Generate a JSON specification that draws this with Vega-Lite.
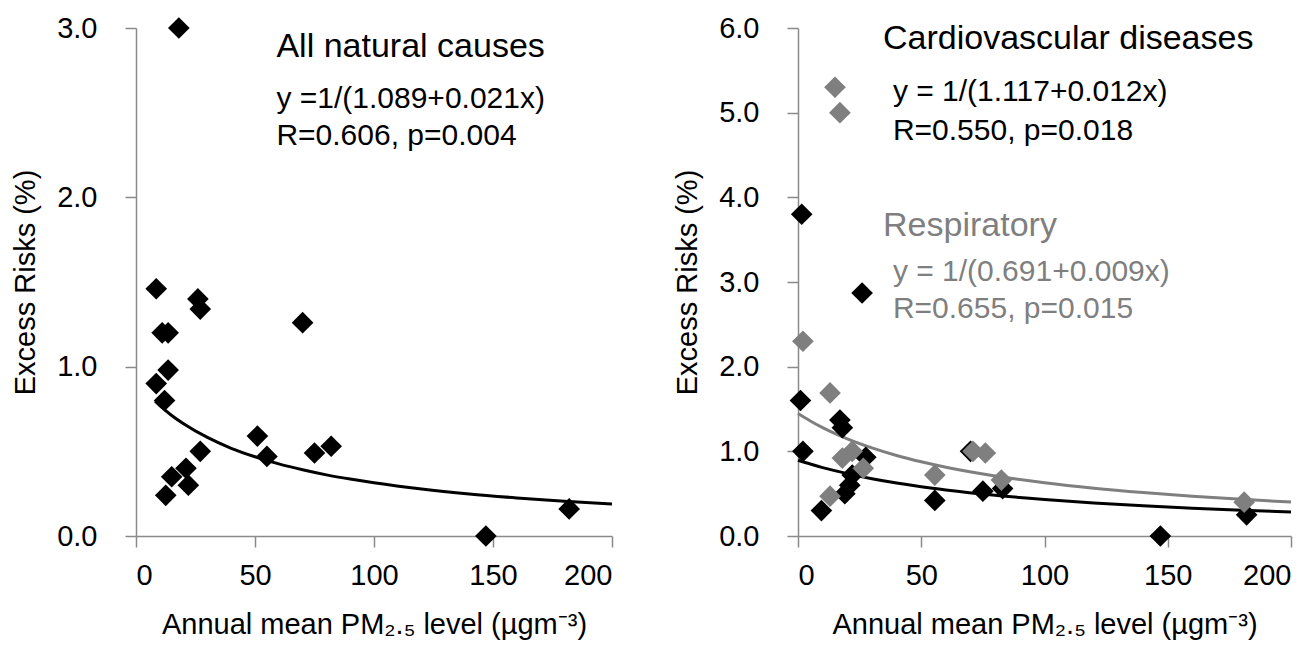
{
  "$schema": "https://vega.github.io/schema/vega-lite/v6.json",
  "padding": {"left": 11, "top": 14, "right": 5, "bottom": 5},
  "background": "#ffffff",
  "spacing": 55,
  "datasets": {
    "nat": [
      {"x": 18, "y": 3.0}, {"x": 8.5, "y": 1.46}, {"x": 26, "y": 1.40}, {"x": 27, "y": 1.34},
      {"x": 11, "y": 1.20}, {"x": 13.5, "y": 1.20}, {"x": 70, "y": 1.26}, {"x": 13.5, "y": 0.98},
      {"x": 8.5, "y": 0.90}, {"x": 12, "y": 0.80}, {"x": 51, "y": 0.59}, {"x": 55, "y": 0.47},
      {"x": 27, "y": 0.50}, {"x": 75, "y": 0.49}, {"x": 82, "y": 0.53}, {"x": 15, "y": 0.35},
      {"x": 21, "y": 0.40}, {"x": 22, "y": 0.30}, {"x": 12.5, "y": 0.24}, {"x": 147, "y": 0.0},
      {"x": 182, "y": 0.16}
    ],
    "natFit": [
      {"x": 8, "y": 0.796}, {"x": 10, "y": 0.770}, {"x": 15, "y": 0.712}, {"x": 20, "y": 0.663},
      {"x": 30, "y": 0.582}, {"x": 40, "y": 0.518}, {"x": 50, "y": 0.468}, {"x": 60, "y": 0.426},
      {"x": 70, "y": 0.391}, {"x": 80, "y": 0.361}, {"x": 90, "y": 0.336}, {"x": 100, "y": 0.314},
      {"x": 120, "y": 0.277}, {"x": 140, "y": 0.248}, {"x": 160, "y": 0.225}, {"x": 180, "y": 0.205},
      {"x": 200, "y": 0.189}
    ],
    "natTitle": [{"x": 59, "y": 2.89, "label": "All natural causes"}],
    "natStats": [
      {"x": 59, "y": 2.58, "label": "y =1/(1.089+0.021x)"},
      {"x": 59, "y": 2.36, "label": "R=0.606, p=0.004"}
    ],
    "cr": [
      {"x": 1.5, "y": 3.8, "group": "Cardiovascular"}, {"x": 26, "y": 2.87, "group": "Cardiovascular"},
      {"x": 1, "y": 1.6, "group": "Cardiovascular"}, {"x": 17, "y": 1.37, "group": "Cardiovascular"},
      {"x": 18, "y": 1.28, "group": "Cardiovascular"}, {"x": 2, "y": 1.0, "group": "Cardiovascular"},
      {"x": 27.5, "y": 0.93, "group": "Cardiovascular"}, {"x": 22, "y": 0.72, "group": "Cardiovascular"},
      {"x": 21, "y": 0.6, "group": "Cardiovascular"}, {"x": 19, "y": 0.5, "group": "Cardiovascular"},
      {"x": 9.5, "y": 0.3, "group": "Cardiovascular"}, {"x": 70, "y": 1.0, "group": "Cardiovascular"},
      {"x": 55.5, "y": 0.42, "group": "Cardiovascular"}, {"x": 75, "y": 0.53, "group": "Cardiovascular"},
      {"x": 83, "y": 0.56, "group": "Cardiovascular"}, {"x": 147, "y": 0.0, "group": "Cardiovascular"},
      {"x": 182, "y": 0.25, "group": "Cardiovascular"},
      {"x": 15, "y": 5.3, "group": "Respiratory"}, {"x": 17, "y": 5.0, "group": "Respiratory"},
      {"x": 2, "y": 2.3, "group": "Respiratory"}, {"x": 13, "y": 1.69, "group": "Respiratory"},
      {"x": 18, "y": 0.92, "group": "Respiratory"}, {"x": 22, "y": 1.0, "group": "Respiratory"},
      {"x": 26.5, "y": 0.8, "group": "Respiratory"}, {"x": 13, "y": 0.47, "group": "Respiratory"},
      {"x": 71, "y": 1.0, "group": "Respiratory"}, {"x": 76, "y": 0.98, "group": "Respiratory"},
      {"x": 55.5, "y": 0.72, "group": "Respiratory"}, {"x": 82.5, "y": 0.66, "group": "Respiratory"},
      {"x": 181, "y": 0.4, "group": "Respiratory"}
    ],
    "crFit": [
      {"x": 0, "y": 0.895, "group": "Cardiovascular"}, {"x": 5, "y": 0.850, "group": "Cardiovascular"},
      {"x": 10, "y": 0.808, "group": "Cardiovascular"}, {"x": 20, "y": 0.737, "group": "Cardiovascular"},
      {"x": 30, "y": 0.677, "group": "Cardiovascular"}, {"x": 40, "y": 0.626, "group": "Cardiovascular"},
      {"x": 50, "y": 0.582, "group": "Cardiovascular"}, {"x": 60, "y": 0.544, "group": "Cardiovascular"},
      {"x": 80, "y": 0.481, "group": "Cardiovascular"}, {"x": 100, "y": 0.432, "group": "Cardiovascular"},
      {"x": 120, "y": 0.391, "group": "Cardiovascular"}, {"x": 140, "y": 0.358, "group": "Cardiovascular"},
      {"x": 160, "y": 0.329, "group": "Cardiovascular"}, {"x": 180, "y": 0.305, "group": "Cardiovascular"},
      {"x": 200, "y": 0.284, "group": "Cardiovascular"},
      {"x": 0, "y": 1.447, "group": "Respiratory"}, {"x": 5, "y": 1.359, "group": "Respiratory"},
      {"x": 10, "y": 1.280, "group": "Respiratory"}, {"x": 20, "y": 1.148, "group": "Respiratory"},
      {"x": 30, "y": 1.041, "group": "Respiratory"}, {"x": 40, "y": 0.951, "group": "Respiratory"},
      {"x": 50, "y": 0.876, "group": "Respiratory"}, {"x": 60, "y": 0.812, "group": "Respiratory"},
      {"x": 80, "y": 0.709, "group": "Respiratory"}, {"x": 100, "y": 0.629, "group": "Respiratory"},
      {"x": 120, "y": 0.565, "group": "Respiratory"}, {"x": 140, "y": 0.513, "group": "Respiratory"},
      {"x": 160, "y": 0.469, "group": "Respiratory"}, {"x": 180, "y": 0.433, "group": "Respiratory"},
      {"x": 200, "y": 0.401, "group": "Respiratory"}
    ],
    "crTitle": [
      {"x": 34.5, "y": 5.87, "label": "Cardiovascular diseases", "group": "Cardiovascular"},
      {"x": 34.5, "y": 3.66, "label": "Respiratory", "group": "Respiratory"}
    ],
    "crStats": [
      {"x": 38.5, "y": 5.24, "label": "y = 1/(1.117+0.012x)", "group": "Cardiovascular"},
      {"x": 38.5, "y": 4.78, "label": "R=0.550, p=0.018", "group": "Cardiovascular"},
      {"x": 38.5, "y": 3.12, "label": "y = 1/(0.691+0.009x)", "group": "Respiratory"},
      {"x": 38.5, "y": 2.68, "label": "R=0.655, p=0.015", "group": "Respiratory"}
    ]
  },
  "hconcat": [
    {
      "width": 476,
      "height": 508,
      "encoding": {
        "x": {"field": "x", "type": "quantitative", "scale": {"domain": [0, 200], "nice": false},
              "axis": {"values": [0, 50, 100, 150, 200], "title": "Annual mean PM₂.₅ level (µgm⁻³)"}},
        "y": {"field": "y", "type": "quantitative", "scale": {"domain": [0, 3], "nice": false},
              "axis": {"values": [0, 1, 2, 3], "format": ".1f", "title": "Excess Risks (%)"}}
      },
      "layer": [
        {"data": {"name": "natFit"}, "mark": {"type": "line", "color": "#000000", "strokeWidth": 3, "interpolate": "monotone"}},
        {"data": {"name": "nat"}, "mark": {"type": "point", "shape": "diamond", "filled": true, "size": 470, "color": "#000000", "opacity": 1}},
        {"data": {"name": "natTitle"}, "mark": {"type": "text", "align": "left", "baseline": "middle", "fontSize": 34, "color": "#000000"},
         "encoding": {"text": {"field": "label"}}},
        {"data": {"name": "natStats"}, "mark": {"type": "text", "align": "left", "baseline": "middle", "fontSize": 30, "color": "#000000"},
         "encoding": {"text": {"field": "label"}}}
      ]
    },
    {
      "width": 493,
      "height": 508,
      "encoding": {
        "x": {"field": "x", "type": "quantitative", "scale": {"domain": [0, 200], "nice": false},
              "axis": {"values": [0, 50, 100, 150, 200], "title": "Annual mean PM₂.₅ level (µgm⁻³)"}},
        "y": {"field": "y", "type": "quantitative", "scale": {"domain": [0, 6], "nice": false},
              "axis": {"values": [0, 1, 2, 3, 4, 5, 6], "format": ".1f", "title": "Excess Risks (%)"}},
        "color": {"field": "group", "type": "nominal", "scale": {"domain": ["Cardiovascular", "Respiratory"], "range": ["#000000", "#7f7f7f"]}, "legend": null}
      },
      "layer": [
        {"data": {"name": "crFit"}, "mark": {"type": "line", "strokeWidth": 3, "interpolate": "monotone"}},
        {"data": {"name": "cr"}, "mark": {"type": "point", "shape": "diamond", "filled": true, "size": 470, "opacity": 1}},
        {"data": {"name": "crTitle"}, "mark": {"type": "text", "align": "left", "baseline": "middle", "fontSize": 34},
         "encoding": {"text": {"field": "label"}}},
        {"data": {"name": "crStats"}, "mark": {"type": "text", "align": "left", "baseline": "middle", "fontSize": 30},
         "encoding": {"text": {"field": "label"}}}
      ]
    }
  ],
  "config": {
    "font": "Liberation Sans",
    "view": {"stroke": null},
    "axis": {
      "grid": false,
      "domainColor": "#8a8a8a",
      "tickColor": "#8a8a8a",
      "domainWidth": 1.5,
      "tickWidth": 1.5,
      "tickSize": 11,
      "labelFont": "Liberation Sans",
      "labelFontSize": 29,
      "labelColor": "#000000",
      "titleFont": "Liberation Sans",
      "titleFontSize": 29,
      "titleFontWeight": "normal",
      "titleColor": "#000000"
    },
    "axisX": {"labelPadding": 14, "titlePadding": 20},
    "axisY": {"labelPadding": 28, "titlePadding": 16}
  }
}
